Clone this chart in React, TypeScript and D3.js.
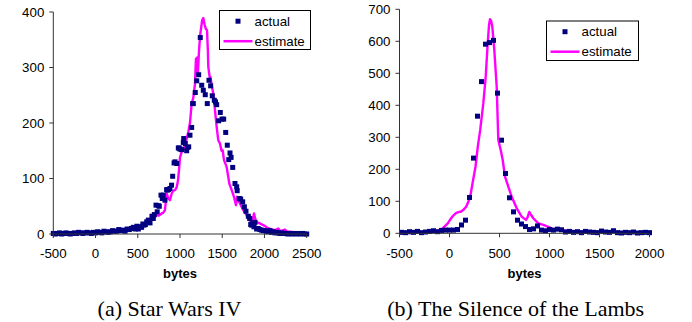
import React from "react";
import * as d3 from "d3";

// ---------- Data: (a) Star Wars IV ----------
const swActualBytes = [-500,-475,-450,-425,-400,-375,-350,-325,-300,-275,-250,-225,-200,-175,-150,-125,-100,-75,-50,-25,0,25,50,75,100,125,150,175,200,225,250,275,300,325,350,375,400,425,447,470,490,507,526,546,560,574,590,606,625,645,668,684,696,716,730,744,755,775,790,802,822,842,850,865,881,900,913,930,941,961,980,992,1000,1020,1039,1044,1063,1079,1087,1103,1118,1138,1150,1157,1181,1198,1221,1240,1257,1276,1299,1323,1343,1363,1382,1406,1420,1434,1458,1477,1497,1517,1541,1560,1577,1592,1605,1624,1651,1671,1677,1702,1718,1742,1762,1781,1809,1825,1837,1849,1862,1876,1888,1907,1925,1946,1965,1985,2006,2025,2045,2065,2085,2105,2125,2144,2165,2185,2205,2225,2250,2275,2300,2325,2350,2375,2400,2425,2450,2475,2500];
const swActualCount = [1,0,1,2,0,1,2,1,0,1,2,1,3,2,1,2,3,2,1,3,2,4,3,2,5,4,3,4,6,5,5,8,6,7,5,9,8,10,12,9,14,9,13,12,18,16,17,22,25,20,32,28,35,52,40,51,50,70,64,70,61,80,79,80,82,88,104,128,130,127,155,155,153,152,165,172,163,150,156,157,178,192,235,235,255,276,287,354,268,259,251,235,277,267,249,241,238,233,204,219,207,207,183,160,134,146,138,120,91,85,78,64,63,58,49,41,32,28,17,16,20,13,21,9,10,8,7,6,6,5,4,6,3,4,2,3,2,1,2,1,1,0,1,0,1,0,1,0,1,0,0];
const swEstimateBytes = [-500,-400,-300,-200,-147,-50,50,150,250,300,368,400,447,490,527,570,606,640,665,700,724,750,783,800,822,842,860,881,902,920,941,960,975,990,1000,1020,1040,1060,1080,1100,1118,1138,1157,1177,1189,1196,1205,1212,1225,1240,1262,1276,1290,1305,1320,1330,1335,1345,1352,1360,1375,1394,1414,1434,1453,1473,1492,1505,1521,1552,1584,1612,1639,1663,1677,1690,1710,1749,1789,1816,1844,1860,1876,1900,1946,1986,2025,2085,2130,2164,2185,2204,2243,2270,2302,2360,2420,2500];
const swEstimateCount = [0,0,1,1,1,2,2,3,5,6,8,9,10,12,14,18,22,26,28,30,34,33,37,38,43,73,65,61,73,78,79,84,95,118,138,148,152,160,172,185,200,235,245,270,316,300,318,290,330,360,385,389,378,370,367,330,301,290,282,283,268,253,223,193,169,163,150,151,133,121,91,79,67,52,67,60,55,43,34,25,22,25,37,22,19,16,12,8,7,10,5,6,8,4,4,3,2,1];

// ---------- Data: (b) The Silence of the Lambs ----------
const slActualBytes = [-480,-440,-400,-360,-320,-280,-240,-200,-160,-120,-80,-40,0,40,80,120,160,200,240,280,320,360,400,440,480,520,560,600,640,680,720,760,800,840,880,920,960,1000,1040,1080,1120,1160,1200,1240,1280,1320,1360,1400,1440,1480,1520,1560,1600,1640,1680,1720,1760,1800,1840,1880,1920,1960,2000];
const slActualCount = [3,2,5,3,6,2,4,6,8,5,9,10,10,10,12,26,41,112,235,366,474,591,596,603,438,291,187,111,67,41,29,21,12,14,23,10,8,12,10,13,11,4,6,3,5,2,6,4,3,2,7,4,3,8,2,1,3,2,4,1,2,3,2];
const slEstimateBytes = [-500,-400,-300,-200,-120,-95,-67,-40,-17,10,33,67,90,117,140,167,190,207,233,260,283,307,338,362,382,395,405,415,428,448,472,488,512,532,555,588,622,672,722,765,780,798,815,838,888,938,988,1030,1072,1120,1172,1250,1350,1500,1650,1800,2000];
const slEstimateCount = [0,1,2,4,7,10,16,24,31,44,54,64,66,68,74,83,100,114,161,208,271,323,406,489,594,650,669,665,646,573,458,292,260,229,177,146,114,78,52,42,50,67,58,47,31,26,20,14,12,10,8,6,5,4,4,3,2];

// ---------- Axes ----------
const swXTicks = [-500, 0, 500, 1000, 1500, 2000, 2500];
const swYTicks = [0, 100, 200, 300, 400];
const slXTicks = [-500, 0, 500, 1000, 1500, 2000];
const slYTicks = [0, 100, 200, 300, 400, 500, 600, 700];

const NAVY = "#000080";
const MAGENTA = "#FF00FF";
const AXIS = "#333";
const SANS = "Liberation Sans, Arial, sans-serif";
const SERIF = "Liberation Serif, Times New Roman, serif";

type PanelProps = {
  xs: d3.ScaleLinear<number, number>;
  ys: d3.ScaleLinear<number, number>;
  xTicks: number[];
  yTicks: number[];
  aX: number[]; aY: number[]; eX: number[]; eY: number[];
  legend: { x: number; y: number; w: number; h: number };
  caption: string; captionX: number;
};

function Panel(p: PanelProps) {
  const { xs, ys } = p;
  const [x0, x1] = xs.range();
  const [y0, y1] = ys.range();
  const line = d3.line<number>().x((_, i) => xs(p.eX[i])).y((v) => ys(v));
  const midX = (x0 + x1) / 2;
  const L = p.legend;
  return (
    <g>
      <path d={line(p.eY) || ""} fill="none" stroke={MAGENTA} strokeWidth={2.4} strokeLinejoin="round" />
      {p.aX.map((x, i) => (
        <rect key={i} x={xs(x) - 2.5} y={ys(p.aY[i]) - 2.5} width={5} height={5} fill={NAVY} />
      ))}
      {/* axes */}
      <line x1={x0} x2={x0} y1={y1} y2={y0} stroke={AXIS} strokeWidth={1} />
      <line x1={x0} x2={x1} y1={y0} y2={y0} stroke={AXIS} strokeWidth={1} />
      {p.yTicks.map((t) => (
        <g key={"y" + t}>
          <line x1={x0 - 4} x2={x0} y1={ys(t)} y2={ys(t)} stroke={AXIS} />
          <text x={x0 - 9} y={ys(t)} dy="0.36em" textAnchor="end" fontFamily={SANS} fontSize={13.3}>{t}</text>
        </g>
      ))}
      {p.xTicks.map((t) => (
        <g key={"x" + t}>
          <line x1={xs(t)} x2={xs(t)} y1={y0} y2={y0 + 4} stroke={AXIS} />
          <text x={xs(t)} y={257.5} textAnchor="middle" fontFamily={SANS} fontSize={13.3}>{t}</text>
        </g>
      ))}
      <text x={midX} y={277.7} textAnchor="middle" fontFamily={SANS} fontSize={13} fontWeight="bold">bytes</text>
      <text x={p.captionX} y={315.7} textAnchor="middle" fontFamily={SERIF} fontSize={22}>{p.caption}</text>
      {/* legend */}
      <rect x={L.x} y={L.y} width={L.w} height={L.h} fill="white" stroke="#000" strokeWidth={1} />
      <rect x={L.x + 16} y={L.y + 8.2} width={5} height={5} fill={NAVY} />
      <text x={L.x + 35} y={L.y + 10.7} dy="0.36em" fontFamily={SANS} fontSize={13.3}>actual</text>
      <line x1={L.x + 4} x2={L.x + 33} y1={L.y + 30.7} y2={L.y + 30.7} stroke={MAGENTA} strokeWidth={2.5} />
      <text x={L.x + 35} y={L.y + 30.7} dy="0.36em" fontFamily={SANS} fontSize={13.3}>estimate</text>
    </g>
  );
}

export default function App() {
  const xsA = d3.scaleLinear().domain([-500, 2500]).range([53.3, 306.7]);
  const ysA = d3.scaleLinear().domain([0, 400]).range([234, 12]);
  const xsB = d3.scaleLinear().domain([-500, 2000]).range([399.5, 649.5]);
  const ysB = d3.scaleLinear().domain([0, 700]).range([233.3, 9.3]);
  return (
    <svg width={692} height={322} style={{ position: "absolute", left: 0, top: 0, background: "#fff" }}>
      <rect width={692} height={322} fill="#fff" />
      <Panel xs={xsA} ys={ysA} xTicks={swXTicks} yTicks={swYTicks}
        aX={swActualBytes} aY={swActualCount} eX={swEstimateBytes} eY={swEstimateCount}
        legend={{ x: 219.5, y: 10.5, w: 91, h: 39 }} caption="(a) Star Wars IV" captionX={169.5} />
      <Panel xs={xsB} ys={ysB} xTicks={slXTicks} yTicks={slYTicks}
        aX={slActualBytes} aY={slActualCount} eX={slEstimateBytes} eY={slEstimateCount}
        legend={{ x: 546.5, y: 21, w: 92, h: 39.5 }} caption="(b) The Silence of the Lambs" captionX={515.7} />
    </svg>
  );
}
